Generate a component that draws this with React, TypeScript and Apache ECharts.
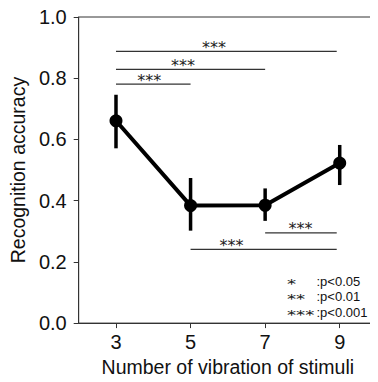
import React, { useEffect, useRef } from "react";
import * as echarts from "echarts";

const stimuli = [3, 5, 7, 9];
const accuracy = [0.661, 0.384, 0.385, 0.523];
const errLow = [0.571, 0.302, 0.334, 0.451];
const errHigh = [0.746, 0.474, 0.44, 0.582];

// significance brackets: [x start, x end, y level, star label x]
const bracketStart = [3, 3, 3, 7, 5];
const bracketEnd = [8.92, 7, 5, 8.92, 8.92];
const bracketLevel = [0.888, 0.829, 0.781, 0.2945, 0.241];
const bracketLabelX = [5.63, 4.8, 3.89, 7.95, 6.1];
const bracketStars = ["***", "***", "***", "***", "***"];

const legendStars = ["*", "**", "***"];
const legendText = [":p<0.05", ":p<0.01", ":p<0.001"];

const FONT = "'Liberation Sans', Arial, Helvetica, sans-serif";
const STAR_FONT = "'DejaVu Sans', sans-serif";

export default function App() {
  const ref = useRef<HTMLDivElement>(null);
  useEffect(() => {
    if (!ref.current) return;
    const chart = echarts.init(ref.current, null, { renderer: "svg" });
    const lineData = stimuli.map((x, i) => [x, accuracy[i]]);
    const errData = stimuli.map((x, i) => [x, errLow[i], errHigh[i]]);
    const brData = bracketStart.map((s, i) => [s, bracketEnd[i], bracketLevel[i], bracketLabelX[i]]);
    const legendGraphics: any[] = [];
    legendStars.forEach((s, i) => {
      legendGraphics.push({
        type: "text",
        x: 287,
        y: 283.2 + i * 15.5,
        scaleX: 1.4,
        style: {
          text: s,
          font: `13px ${STAR_FONT}`,
          fill: "#222",
          verticalAlign: "middle",
        },
      });
      legendGraphics.push({
        type: "text",
        x: 316.5,
        y: 281 + i * 15.5,
        style: {
          text: legendText[i],
          font: `13px ${FONT}`,
          fill: "#111",
          verticalAlign: "middle",
        },
      });
    });
    chart.setOption({
      animation: false,
      backgroundColor: "#fff",
      grid: {
        left: 77,
        top: 17,
        right: 1,
        bottom: 55,
        show: true,
        borderColor: "#333",
        borderWidth: 1,
        backgroundColor: "transparent",
      },
      xAxis: {
        type: "value",
        min: 2,
        max: 10,
        name: "Number of vibration of stimuli",
        nameLocation: "middle",
        nameGap: 33,
        nameTextStyle: { fontSize: 19.5, fontFamily: FONT, color: "#111" },
        axisLine: { show: true, lineStyle: { color: "#333", width: 1 } },
        axisTick: {
          show: true,
          length: 5,
          lineStyle: { color: "#333" },
          customValues: stimuli,
        },
        axisLabel: {
          fontSize: 20,
          fontFamily: FONT,
          color: "#111",
          margin: 9,
          customValues: stimuli,
        },
        splitLine: { show: false },
      },
      yAxis: {
        type: "value",
        min: 0,
        max: 1,
        interval: 0.2,
        name: "Recognition accuracy",
        nameLocation: "middle",
        nameGap: 44,
        nameTextStyle: { fontSize: 19.5, fontFamily: FONT, color: "#111" },
        axisLine: { show: true, lineStyle: { color: "#333", width: 1 } },
        axisTick: { show: true, length: 5, lineStyle: { color: "#333" } },
        axisLabel: {
          fontSize: 20,
          fontFamily: FONT,
          color: "#111",
          margin: 12,
          formatter: (v: number) => v.toFixed(1),
        },
        splitLine: { show: false },
      },
      series: [
        {
          type: "custom",
          data: errData,
          z: 3,
          renderItem: (params: any, api: any) => {
            const p1 = api.coord([api.value(0), api.value(1)]);
            const p2 = api.coord([api.value(0), api.value(2)]);
            return {
              type: "line",
              shape: { x1: p1[0], y1: p1[1], x2: p2[0], y2: p2[1] },
              style: { stroke: "#000", lineWidth: 3.5 },
            };
          },
        },
        {
          type: "line",
          data: lineData,
          z: 4,
          symbol: "circle",
          symbolSize: 13,
          lineStyle: { color: "#000", width: 4 },
          itemStyle: { color: "#000" },
        },
        {
          type: "custom",
          data: brData,
          z: 2,
          renderItem: (params: any, api: any) => {
            const a = api.coord([api.value(0), api.value(2)]);
            const b = api.coord([api.value(1), api.value(2)]);
            const t = api.coord([api.value(3), api.value(2)]);
            return {
              type: "group",
              children: [
                {
                  type: "line",
                  shape: { x1: a[0], y1: a[1], x2: b[0], y2: b[1] },
                  style: { stroke: "#333", lineWidth: 1.2 },
                },
                {
                  type: "text",
                  x: t[0],
                  y: a[1] + 4,
                  style: {
                    text: bracketStars[params.dataIndex],
                    font: `16px ${STAR_FONT}`,
                    fill: "#222",
                    align: "center",
                    verticalAlign: "bottom",
                  },
                },
              ],
            };
          },
        },
      ],
      graphic: legendGraphics,
    });
    return () => chart.dispose();
  }, []);
  return <div ref={ref} style={{ width: 378, height: 382, margin: -8 }} />;
}
